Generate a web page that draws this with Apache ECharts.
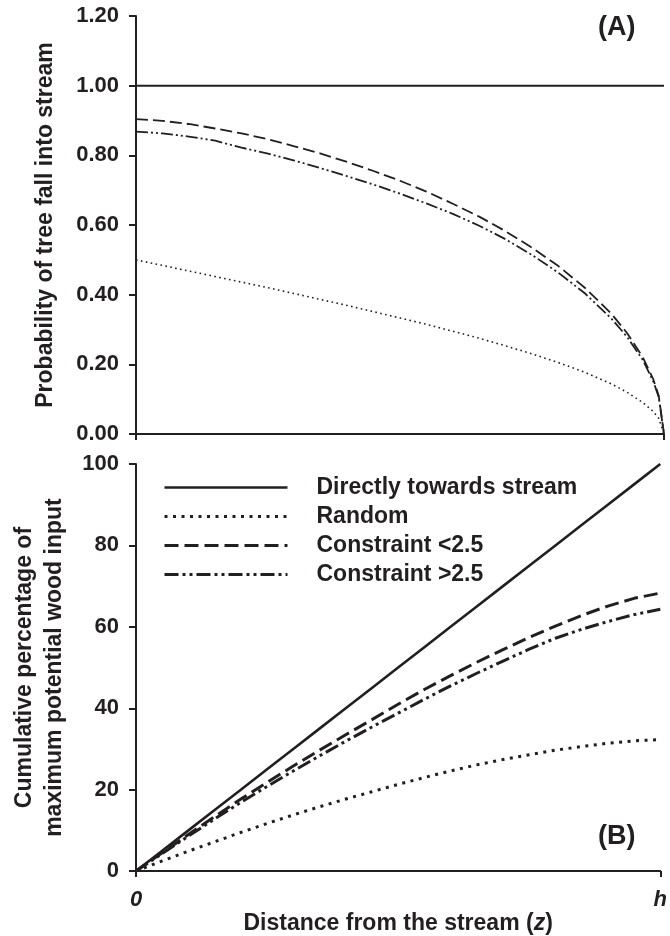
<!DOCTYPE html>
<html><head><meta charset="utf-8">
<script src="https://cdn.jsdelivr.net/npm/echarts@6/dist/echarts.min.js"></script>
<style>html,body{margin:0;padding:0;background:#fff}#c{width:670px;height:936px}</style>
</head><body><div id="c"></div>
<script>
// ---- Data ----
const seriesNames = ['Directly towards stream', 'Random', 'Constraint <2.5', 'Constraint >2.5'];

// Panel A: probability of tree fall into stream vs relative distance z/h
const zA = [0, 0.05, 0.1, 0.15, 0.2, 0.25, 0.3, 0.35, 0.4, 0.45, 0.5, 0.55, 0.6, 0.65, 0.7, 0.75, 0.8, 0.85, 0.9, 0.93, 0.96, 0.98, 0.99, 1];
const probDirect = [1, 1, 1, 1, 1, 1, 1, 1, 1, 1, 1, 1, 1, 1, 1, 1, 1, 1, 1, 1, 1, 1, 1, 1];
const probRandom = [0.500, 0.484, 0.468, 0.452, 0.436, 0.420, 0.403, 0.386, 0.369, 0.351, 0.333, 0.315, 0.295, 0.275, 0.253, 0.230, 0.205, 0.177, 0.144, 0.120, 0.090, 0.064, 0.045, 0];
const probConstrLow = [0.904, 0.899, 0.890, 0.877, 0.863, 0.846, 0.826, 0.805, 0.781, 0.755, 0.727, 0.696, 0.661, 0.624, 0.582, 0.535, 0.482, 0.420, 0.346, 0.290, 0.220, 0.156, 0.110, 0];
const probConstrHigh = [0.868, 0.863, 0.854, 0.842, 0.822, 0.805, 0.785, 0.763, 0.740, 0.716, 0.690, 0.662, 0.632, 0.598, 0.559, 0.514, 0.463, 0.404, 0.332, 0.279, 0.212, 0.150, 0.106, 0];

// Panel B: cumulative percentage of maximum potential wood input
const zB = [0, 0.05, 0.1, 0.15, 0.2, 0.25, 0.3, 0.35, 0.4, 0.45, 0.5, 0.55, 0.6, 0.65, 0.7, 0.75, 0.8, 0.85, 0.9, 0.95, 1];
const cumDirect = [0, 5, 10, 15, 20, 25, 30, 35, 40, 45, 50, 55, 60, 65, 70, 75, 80, 85, 90, 95, 100];
const cumRandom = [0, 2.5, 4.9, 7.2, 9.5, 11.7, 13.8, 15.8, 17.7, 19.5, 21.3, 23.0, 24.6, 26.1, 27.4, 28.6, 29.7, 30.6, 31.4, 32.0, 32.3];
const cumConstrLow = [0, 4.5, 9.0, 13.4, 17.7, 21.8, 25.8, 29.7, 33.5, 37.2, 41.0, 44.6, 48.0, 51.3, 54.4, 57.4, 60.2, 62.8, 65.1, 67.0, 68.3];
const cumConstrHigh = [0, 4.3, 8.6, 12.8, 16.9, 20.8, 24.6, 28.3, 31.9, 35.4, 38.8, 42.2, 45.5, 48.6, 51.6, 54.5, 57.2, 59.4, 61.3, 63.0, 64.3];

const yTicksA = { min: 0, max: 1.2, interval: 0.2 };
const yTicksB = { min: 0, max: 100, interval: 20 };
const xTickLabels = ['0', 'h'];

// ---- Styles ----
const INK = '#231f20';
const FONT = '"Liberation Sans", Arial, sans-serif';
const pairs = (xs, ys) => xs.map((x, i) => [x, ys[i]]);

const styleA = [
  { type: 'solid', width: 2 },
  { type: [1.6, 3.4], width: 1.6 },
  { type: [12, 5], width: 1.8 },
  { type: [12, 3, 2, 3, 2, 3], width: 1.8 }
];
const styleB = [
  { type: 'solid', width: 2.6 },
  { type: [3, 5.5], width: 3 },
  { type: [14, 6], width: 3 },
  { type: [14, 4, 3, 4, 3, 4], width: 3 }
];
const dataA = [probDirect, probRandom, probConstrLow, probConstrHigh];
const dataB = [cumDirect, cumRandom, cumConstrLow, cumConstrHigh];

const series = [];
seriesNames.forEach((n, i) => {
  series.push({
    name: n, type: 'line', xAxisIndex: 1, yAxisIndex: 1,
    data: pairs(zB, dataB[i]), symbol: 'none', silent: true,
    itemStyle: { color: INK },
    lineStyle: Object.assign({ color: INK }, styleB[i])
  });
});
seriesNames.forEach((n, i) => {
  series.push({
    name: n, type: 'line', xAxisIndex: 0, yAxisIndex: 0,
    data: pairs(zA, dataA[i]), symbol: 'none', silent: true,
    itemStyle: { color: INK },
    lineStyle: Object.assign({ color: INK }, styleA[i])
  });
});

const axisLine = { show: true, onZero: false, lineStyle: { color: INK, width: 2 } };
const axisTick = { show: true, inside: false, length: 7, lineStyle: { color: INK, width: 2 } };
const tickFont = { color: INK, fontFamily: FONT, fontWeight: 'bold', fontSize: 22 };

const chart = echarts.init(document.getElementById('c'), null, { renderer: 'canvas' });
chart.setOption({
  animation: false,
  backgroundColor: '#fff',
  grid: [
    { left: 136, top: 16, width: 528, height: 418, containLabel: false },
    { left: 136, top: 464, width: 528, height: 418, containLabel: false }
  ],
  xAxis: [
    { type: 'value', gridIndex: 0, min: 0, max: 1, interval: 1,
      axisLine, axisTick: Object.assign({}, axisTick, { length: 6 }),
      axisLabel: { show: false }, splitLine: { show: false } },
    { type: 'value', gridIndex: 1, min: 0, max: 1, interval: 1,
      axisLine, axisTick: Object.assign({}, axisTick, { length: 6 }),
      axisLabel: Object.assign({}, tickFont, { fontStyle: 'italic', margin: 18,
        formatter: v => (v === 0 ? xTickLabels[0] : xTickLabels[1]) }),
      splitLine: { show: false },
      name: 'Distance from the stream ({it|z})', nameLocation: 'middle', nameGap: 30,
      nameTextStyle: { color: INK, fontFamily: FONT, fontWeight: 'bold', fontSize: 23,
        rich: { it: { color: INK, fontFamily: FONT, fontWeight: 'bold', fontStyle: 'italic', fontSize: 23 } } } }
  ],
  yAxis: [
    { type: 'value', gridIndex: 0, min: yTicksA.min, max: yTicksA.max, interval: yTicksA.interval,
      axisLine, axisTick, splitLine: { show: false },
      axisLabel: Object.assign({}, tickFont, { margin: 17, formatter: v => v.toFixed(2) }),
      name: 'Probability of tree fall into stream', nameLocation: 'middle', nameGap: 79, nameRotate: 90,
      nameTextStyle: { color: INK, fontFamily: FONT, fontWeight: 'bold', fontSize: 23 } },
    { type: 'value', gridIndex: 1, min: yTicksB.min, max: yTicksB.max, interval: yTicksB.interval,
      axisLine, axisTick, splitLine: { show: false },
      axisLabel: Object.assign({}, tickFont, { margin: 17 }),
      name: 'Cumulative percentage of\nmaximum potential wood input', nameLocation: 'middle', nameGap: 66, nameRotate: 90,
      nameTextStyle: { color: INK, fontFamily: FONT, fontWeight: 'bold', fontSize: 23, lineHeight: 30 } }
  ],
  legend: {
    data: seriesNames, orient: 'vertical', left: 163, top: 476, padding: 0,
    itemWidth: 123, itemHeight: 14, itemGap: 6, selectedMode: false,
    itemStyle: { color: 'rgba(0,0,0,0)', borderColor: 'rgba(0,0,0,0)', borderWidth: 0 },
    lineStyle: { width: 'inherit' },
    textStyle: { color: INK, fontFamily: FONT, fontWeight: 'bold', fontSize: 23, lineHeight: 23, padding: [0, 0, 0, 24] }
  },
  graphic: [
    { type: 'text', left: 598, top: 14, style: { text: '(A)', fill: INK, font: 'bold 27px ' + FONT } },
    { type: 'text', left: 598, top: 823, style: { text: '(B)', fill: INK, font: 'bold 27px ' + FONT } }
  ],
  series
});
</script>
</body></html>
